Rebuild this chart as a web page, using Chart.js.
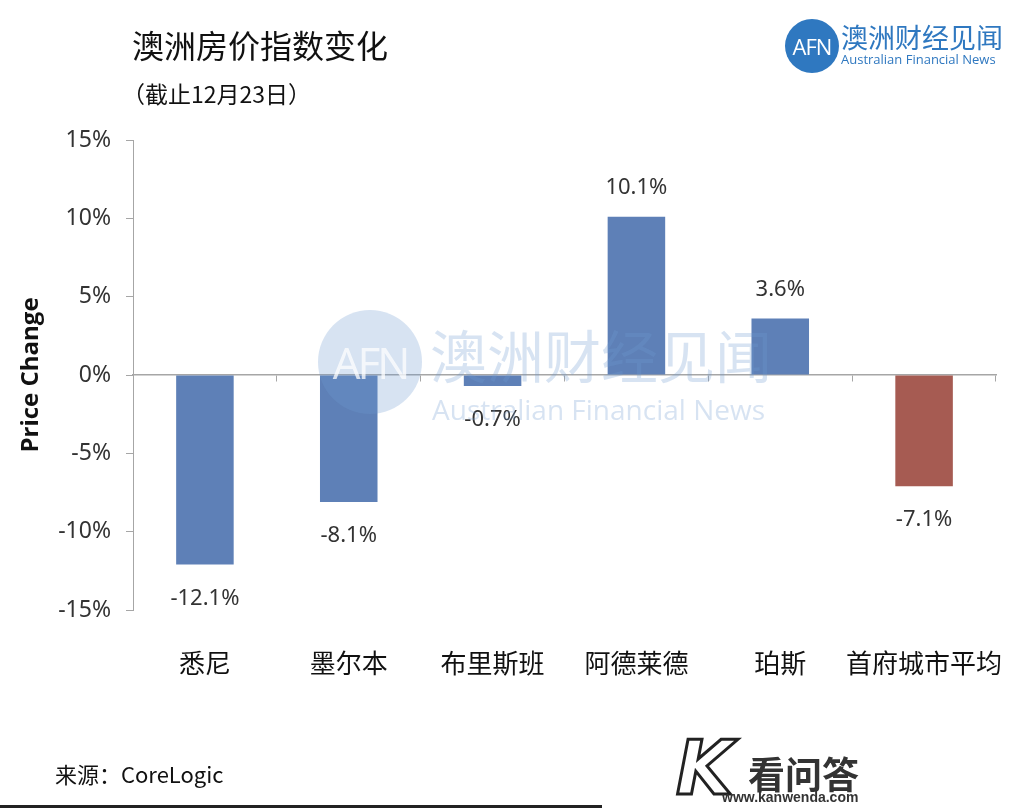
<!DOCTYPE html>
<html>
<head>
<meta charset="utf-8">
<script src="https://cdn.jsdelivr.net/npm/chart.js@4.4.1/dist/chart.umd.min.js"></script>
<style>
  html, body { margin: 0; padding: 0; background: #fff; }
  #wrap { position: relative; width: 1024px; height: 811px; overflow: hidden; font-family: "Noto Sans CJK SC", "Noto Sans", sans-serif; }
  #box { position: absolute; left: 0; top: 0; width: 1024px; height: 811px; }
  .abs { position: absolute; white-space: nowrap; }
  #title { left: 132px; top: 21px; font-size: 32px; color: #111; }
  #sub { left: 122px; top: 76px; font-size: 23px; color: #111; }
  #src { left: 55px; top: 757px; font-size: 22px; color: #111; }
  #rule { left: 0; top: 805px; width: 602px; height: 3px; background: #222; }
  .circle { border-radius: 50%; text-align: center; font-family: "Open Sans", sans-serif; color: #fff; }
  #logo { left: 785px; top: 19px; width: 54px; height: 54px; background: #2f78c0; line-height: 54px; font-size: 22px; letter-spacing: -1px; }
  #logoCn { left: 841px; top: 17px; font-size: 27px; color: #2f78c0; }
  #logoEn { left: 841px; top: 50px; font-size: 13px; color: #2f78c0; font-family: "Open Sans", sans-serif; }
  #wm { left: 0; top: 0; width: 1024px; height: 811px; pointer-events: none; }
  #wmCircle { left: 318px; top: 310px; width: 104px; height: 104px; background: rgba(110,155,210,0.28); line-height: 104px; font-size: 44px; color: rgba(255,255,255,0.75); letter-spacing: -3px; }
  #wmCn { left: 430px; top: 312px; font-size: 57px; color: rgba(110,155,210,0.28); }
  #wmEn { left: 432px; top: 390px; font-size: 28px; color: rgba(110,155,210,0.28); font-family: "Open Sans", sans-serif; }
  #kw { left: 676px; top: 728px; font-size: 74px; font-weight: 700; font-family: "DejaVu Sans", sans-serif; color: #fff; -webkit-text-stroke: 3px #222; font-style: italic; line-height: 80px; }
  #kwCn { left: 748px; top: 746px; font-size: 37px; font-weight: 700; color: #333; }
  #kwEn { left: 722px; top: 789px; font-size: 14px; font-weight: 700; color: #333; font-family: "Liberation Sans Narrow", "Liberation Sans", sans-serif; }
</style>
</head>
<body>
<div id="wrap">
  <div id="box"><canvas id="price-chart"></canvas></div>
  <div class="abs" id="title">澳洲房价指数变化</div>
  <div class="abs" id="sub">（截止12月23日）</div>
  <div class="abs circle" id="logo">AFN</div>
  <div class="abs" id="logoCn">澳洲财经见闻</div>
  <div class="abs" id="logoEn">Australian Financial News</div>
  <div class="abs" id="wm">
    <div class="abs circle" id="wmCircle">AFN</div>
    <div class="abs" id="wmCn">澳洲财经见闻</div>
    <div class="abs" id="wmEn">Australian Financial News</div>
  </div>
  <div class="abs" id="src">来源：CoreLogic</div>
  <div class="abs" id="rule"></div>
  <div class="abs" id="kw">K</div>
  <div class="abs" id="kwCn">看问答</div>
  <div class="abs" id="kwEn">www.kanwenda.com</div>
</div>
<script>
// 澳洲房价指数变化（截止12月23日）
const cities = ["悉尼", "墨尔本", "布里斯班", "阿德莱德", "珀斯", "首府城市平均"];
const priceChange = [-12.1, -8.1, -0.7, 10.1, 3.6, -7.1];
const barColors = ["#5e80b7", "#5e80b7", "#5e80b7", "#5e80b7", "#5e80b7", "#a65b52"];
const yTicks = [-15, -10, -5, 0, 5, 10, 15];

const axisGray = "#a6a6a6";

// value labels above / below each bar
const valueLabels = {
  id: "valueLabels",
  afterDatasetsDraw(chart) {
    const ctx = chart.ctx;
    const meta = chart.getDatasetMeta(0);
    ctx.save();
    ctx.font = "22px 'Noto Sans', sans-serif";
    ctx.fillStyle = "#333";
    ctx.textAlign = "center";
    ctx.textBaseline = "middle";
    meta.data.forEach((bar, i) => {
      const v = priceChange[i];
      const y = v >= 0 ? bar.y - 29 : bar.y + 34;
      ctx.fillText(v.toFixed(1) + "%", bar.x, y);
    });
    ctx.restore();
  },
};

const ctx = document.getElementById("price-chart");
new Chart(ctx, {
  type: "bar",
  data: {
    labels: cities,
    datasets: [
      {
        label: "Price Change",
        data: priceChange,
        backgroundColor: barColors,
        borderWidth: 0,
        barPercentage: 0.4,
        categoryPercentage: 1,
        xAxisID: "x",
      },
    ],
  },
  options: {
    responsive: true,
    maintainAspectRatio: false,
    animation: false,
    layout: { padding: { top: 140, right: 28, left: 0, bottom: 0 } },
    plugins: { legend: { display: false }, tooltip: { enabled: false } },
    scales: {
      x: {
        position: "bottom",
        grid: { display: false },
        border: { display: false },
        ticks: {
          font: { family: "'Noto Sans CJK SC'", size: 26 },
          color: "#111",
          padding: 30,
          maxRotation: 0,
          autoSkip: false,
        },
        afterFit(s) {
          s.height = 201;
          s.paddingLeft = 0;
          s.paddingRight = 0;
        },
      },
      x0: {
        type: "category",
        position: { y: 0 },
        offset: true,
        grid: { display: true, drawOnChartArea: false, offset: true, tickLength: 6, color: axisGray },
        border: { display: true, color: axisGray, width: 1.5 },
        ticks: { display: false },
      },
      y: {
        min: -15,
        max: 15,
        afterBuildTicks(s) {
          s.ticks = yTicks.map((v) => ({ value: v }));
        },
        grid: { drawOnChartArea: false, tickLength: 7, color: axisGray },
        border: { color: axisGray },
        ticks: {
          font: { family: "'Noto Sans'", size: 23 },
          color: "#333",
          padding: 15,
          callback: (v) => v + "%",
        },
        title: {
          display: true,
          text: "Price Change",
          font: { family: "'Open Sans'", size: 24, weight: "bold" },
          color: "#111",
          padding: { top: 17 },
        },
        afterFit(s) {
          s.width = 133;
          s.paddingTop = 0;
          s.paddingBottom = 0;
        },
      },
    },
  },
  plugins: [valueLabels],
});
</script>
</body>
</html>
